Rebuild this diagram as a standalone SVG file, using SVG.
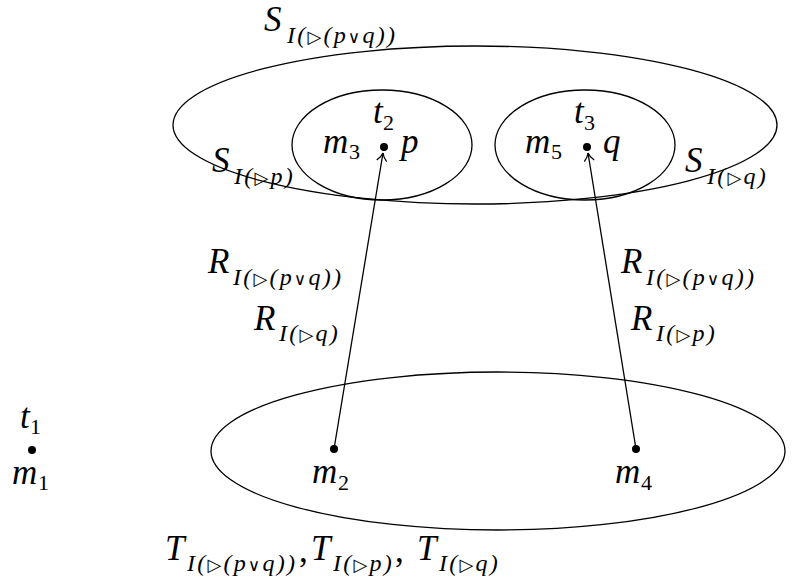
<svg xmlns="http://www.w3.org/2000/svg" width="792" height="584" viewBox="0 0 792 584">
<style>
.e{fill:none;stroke:#000;stroke-width:1.3}
.c{fill:none;stroke:#000;stroke-width:1.3}
.d{fill:#000}
text{font-family:"Liberation Serif","DejaVu Serif",serif;font-style:italic;font-size:35px;fill:#000}
.s{font-size:24px;letter-spacing:2.2px}
.dg{font-size:22px;font-style:normal}
.n{font-style:normal}
.tri{font-family:"DejaVu Sans",sans-serif;font-style:normal;font-size:18px}
.or{font-family:"DejaVu Sans",sans-serif;font-style:normal;font-size:17px}
</style>
<defs>
<marker id="ah" markerWidth="14" markerHeight="14" refX="11" refY="7" orient="auto" markerUnits="userSpaceOnUse">
<path d="M3,2 Q7,6 11,7 Q7,8 3,12" fill="none" stroke="#000" stroke-width="1.3"/>
</marker>
</defs>
<rect width="792" height="584" fill="#fff"/>
<g id="S_outer">
<ellipse class="e" cx="475" cy="125" rx="302" ry="79"/>
<text x="264" y="31">S<tspan class="s" x="287" y="43">I(<tspan class="tri">▷</tspan>(p<tspan class="or">∨</tspan>q))</tspan></text>
</g>
<g id="S_p">
<ellipse class="e" cx="382" cy="145" rx="90" ry="55"/>
<text x="212" y="172">S<tspan class="s" x="234" y="184">I(<tspan class="tri">▷</tspan>p)</tspan></text>
</g>
<g id="S_q">
<ellipse class="e" cx="585" cy="145" rx="90" ry="55"/>
<text x="685" y="172">S<tspan class="s" x="707" y="184">I(<tspan class="tri">▷</tspan>q)</tspan></text>
</g>
<g id="T">
<ellipse class="e" cx="498" cy="451" rx="287" ry="79"/>
<text x="165" y="560">T<tspan class="s" x="187" y="571">I(<tspan class="tri">▷</tspan>(p<tspan class="or">∨</tspan>q))</tspan><tspan class="n" x="299" y="562">,</tspan><tspan x="311" y="560">T</tspan><tspan class="s" x="333" y="571">I(<tspan class="tri">▷</tspan>p)</tspan><tspan class="n" x="395" y="562">,</tspan><tspan x="417" y="560">T</tspan><tspan class="s" x="439" y="571">I(<tspan class="tri">▷</tspan>q)</tspan></text>
</g>
<g id="t2">
<circle class="d" cx="384" cy="147" r="4"/>
<text x="373" y="123">t<tspan class="dg" x="383" y="130">2</tspan></text>
<text x="323" y="153">m<tspan class="dg" x="349" y="159">3</tspan></text>
<text x="401" y="153">p</text>
</g>
<g id="t3">
<circle class="d" cx="587" cy="147" r="4"/>
<text x="574" y="123">t<tspan class="dg" x="584" y="130">3</tspan></text>
<text x="525" y="153">m<tspan class="dg" x="551" y="159">5</tspan></text>
<text x="603" y="153">q</text>
</g>
<g id="t1">
<circle class="d" cx="32" cy="450" r="4"/>
<text x="20" y="428">t<tspan class="dg" x="30" y="434">1</tspan></text>
<text x="12" y="484">m<tspan class="dg" x="38" y="490">1</tspan></text>
</g>
<g id="m2">
<circle class="d" cx="334" cy="449" r="4"/>
<text x="312" y="483">m<tspan class="dg" x="338" y="490">2</tspan></text>
</g>
<g id="m4">
<circle class="d" cx="636" cy="449" r="4"/>
<text x="615" y="483">m<tspan class="dg" x="641" y="490">4</tspan></text>
</g>
<g id="connectors">
<line class="c" x1="334" y1="449" x2="383" y2="153" marker-end="url(#ah)"/>
<line class="c" x1="636" y1="449" x2="588" y2="153" marker-end="url(#ah)"/>
<text x="208" y="273">R<tspan class="s" x="233" y="285">I(<tspan class="tri">▷</tspan>(p<tspan class="or">∨</tspan>q))</tspan></text>
<text x="254" y="330">R<tspan class="s" x="279" y="341">I(<tspan class="tri">▷</tspan>q)</tspan></text>
<text x="621" y="273">R<tspan class="s" x="646" y="285">I(<tspan class="tri">▷</tspan>(p<tspan class="or">∨</tspan>q))</tspan></text>
<text x="631" y="330">R<tspan class="s" x="656" y="341">I(<tspan class="tri">▷</tspan>p)</tspan></text>
</g>
</svg>
